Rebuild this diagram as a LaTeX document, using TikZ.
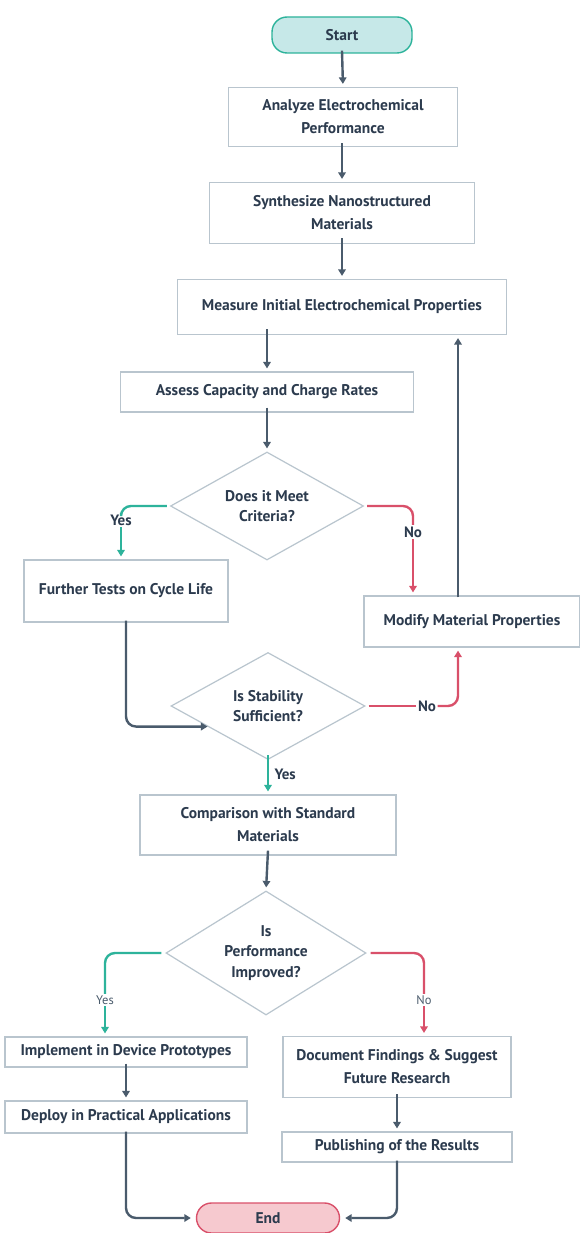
\documentclass[tikz,border=0pt]{standalone}
\usepackage{fontspec}
\setmainfont{PT Sans}
\usetikzlibrary{shapes.geometric,arrows.meta,calc}
\definecolor{ink}{HTML}{2C3B4E}
\definecolor{arr}{HTML}{4A5B6C}
\definecolor{edgec}{HTML}{B9C5CE}
\definecolor{tealc}{HTML}{2DB39B}
\definecolor{redc}{HTML}{D9506A}
\definecolor{startfill}{HTML}{C6E8E8}
\definecolor{endfill}{HTML}{F6C9CF}
\begin{document}
\begin{tikzpicture}[x=1pt,y=-1pt,
  txt/.style={font=\bfseries\fontsize{15.5}{23}\selectfont,text=ink,align=center},
  box/.style={txt,draw=edgec,line width=1.2pt,fill=white,inner sep=0pt},
  pill/.style={txt,rounded corners=15pt,line width=1.4pt,inner sep=0pt},
  dec/.style={txt,diamond,aspect=1.6,draw=edgec,line width=1.2pt,fill=white,inner sep=0pt,font=\bfseries\fontsize{15.5}{20.5}\selectfont},
  conn/.style={draw=arr,line width=2.4pt,rounded corners=10pt},
  tip/.style={-{Stealth[length=6.5pt,width=7.5pt,inset=0pt]}},
  yesc/.style={conn,draw=tealc},
  noc/.style={conn,draw=redc},
  lab/.style={font=\bfseries\fontsize{15}{17}\selectfont,text=ink,fill=white,inner sep=1.5pt},
  slab/.style={font=\fontsize{12.5}{14}\selectfont,text=arr,fill=white,inner sep=1.5pt},
  gap/.style={shorten >=3pt}
]
\useasboundingbox (0,0) rectangle (580,1233);
\fill[white] (0,0) rectangle (580,1233);

% nodes
\node[pill,draw=tealc,fill=startfill,minimum width=140pt,minimum height=36pt] (start) at (342,35) {Start};
\node[box,minimum width=229pt,minimum height=59pt] (analyze) at (343,117) {Analyze Electrochemical\\Performance};
\node[box,minimum width=265pt,minimum height=61pt] (synth) at (342,213) {Synthesize Nanostructured\\Materials};
\node[box,minimum width=329pt,minimum height=55pt] (measure) at (342,307) {Measure Initial Electrochemical Properties};
\node[box,minimum width=293pt,minimum height=40pt] (assess) at (267,392) {Assess Capacity and Charge Rates};
\node[dec,minimum width=193pt,minimum height=108pt] (d1) at (267,506) {Does it Meet\\Criteria?};
\node[box,minimum width=204pt,minimum height=62pt] (further) at (126,591) {Further Tests on Cycle Life};
\node[box,minimum width=216pt,minimum height=51pt] (modify) at (472,621.5) {Modify Material Properties};
\node[dec,minimum width=194pt,minimum height=107pt] (d2) at (268,706) {Is Stability\\Sufficient?};
\node[box,minimum width=256pt,minimum height=60pt] (comp) at (268,825) {Comparison with Standard\\Materials};
\node[dec,minimum width=200pt,minimum height=124pt] (d3) at (266,953) {Is\\Performance\\Improved?};
\node[box,minimum width=242pt,minimum height=30pt] (impl) at (126,1052) {Implement in Device Prototypes};
\node[box,minimum width=242pt,minimum height=32pt] (deploy) at (126,1117) {Deploy in Practical Applications};
\node[box,minimum width=228pt,minimum height=61pt] (doc) at (397,1067) {Document Findings \& Suggest\\Future Research};
\node[box,minimum width=230pt,minimum height=30pt] (pub) at (397,1147) {Publishing of the Results};
\node[pill,draw=redc,fill=endfill,minimum width=143pt,minimum height=30pt] (end) at (268,1218) {End};

\coordinate (loopx) at (458,0);

% main chain
\draw[conn,tip,gap] ([yshift=3pt]start.south) -- (analyze.north);
\draw[conn,tip,gap] ([yshift=4pt]analyze.south -| synth.north) -- (synth.north);
\draw[conn,tip,gap] ([yshift=6pt]synth.south) -- (measure.north);
\draw[conn,tip,gap] ([yshift=6pt]measure.south -| assess.north) -- (assess.north);
\draw[conn,tip,gap] ([yshift=5pt]assess.south) -- (d1.north);

% d1 yes
\node[lab] (y1) at (121,520) {Yes};
\draw[yesc] ([xshift=-3pt]d1.west) -| (y1.north);
\draw[yesc,tip,gap] (y1.south) -- (y1.south |- further.north);
% d1 no
\node[lab] (n1) at (413,532) {No};
\draw[noc] ([xshift=3pt]d1.east) -| (n1.north);
\draw[noc,tip,gap] (n1.south) -- (n1.south |- modify.north);

% loop back
\draw[conn,tip,gap] ([yshift=-2pt]modify.north -| loopx) -- (measure.south -| loopx);

% further -> d2
\draw[conn,tip] ([yshift=2pt]further.south) |- ($(d2.west)!0.38!(d2.south)$);

% d2 no
\node[lab] (n2) at (427,706) {No};
\draw[noc] ([xshift=3pt]d2.east) -- (n2.west);
\draw[noc,tip,gap] (n2.east) -| (modify.south -| loopx);

% d2 yes
\draw[yesc,tip,gap] ([yshift=5pt]d2.south) -- (comp.north) node[midway,right,font=\bfseries\fontsize{15}{17}\selectfont,text=ink,xshift=2pt] {Yes};

\draw[conn,tip,gap] ([yshift=5pt]comp.south) -- (d3.north);

% d3 yes
\node[slab] (y3) at (105,1000) {Yes};
\draw[yesc] ([xshift=-4pt]d3.west) -| (y3.north);
\draw[yesc,tip,gap] (y3.south) -- (y3.south |- impl.north);
% d3 no
\node[slab] (n3) at (424,1000) {No};
\draw[noc] ([xshift=4pt]d3.east) -| (n3.north);
\draw[noc,tip,gap] (n3.south) -- (n3.south |- doc.north);

\draw[conn,tip,gap] ([yshift=4pt]impl.south) -- (impl.south |- deploy.north);
\draw[conn,tip,gap] ([yshift=4pt]doc.south -| pub.north) -- (pub.north);

\draw[conn,tip,shorten >=5pt] ([yshift=2pt]deploy.south) |- (end.west);
\draw[conn,tip,shorten >=5pt] ([yshift=2pt]pub.south) |- (end.east);
\end{tikzpicture}
\end{document}
